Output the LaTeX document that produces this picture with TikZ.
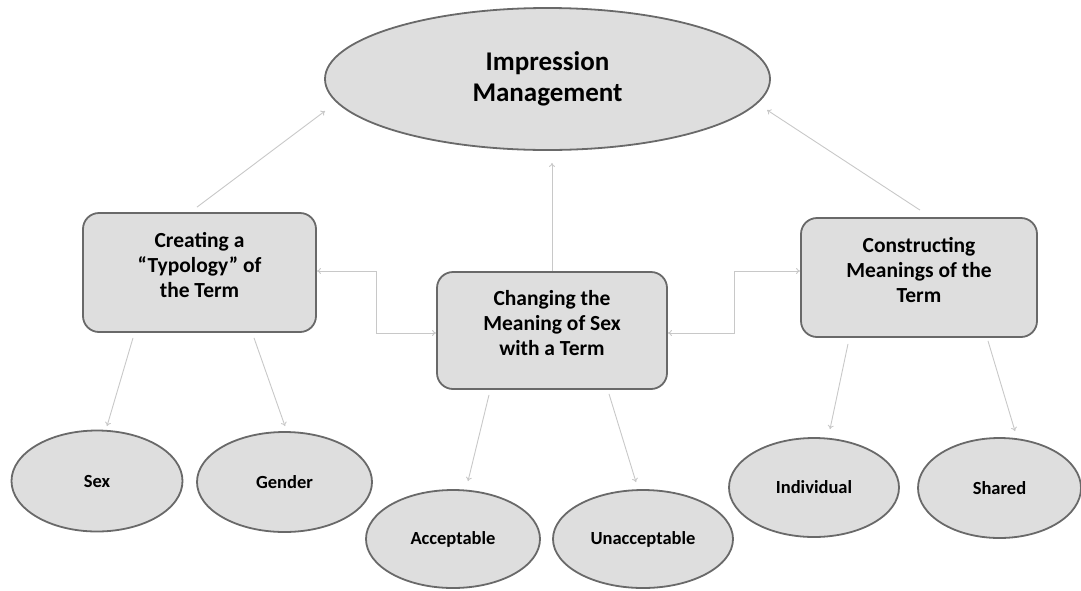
\documentclass[tikz,border=0pt]{standalone}
\usepackage{fontspec}
\setmainfont{Carlito}
\usetikzlibrary{shapes.geometric,arrows.meta}
\definecolor{shapefill}{RGB}{222,222,222}
\definecolor{shapeline}{RGB}{105,105,105}
\definecolor{connline}{RGB}{200,200,200}
\tikzset{
  shapebase/.style={draw=shapeline, line width=1.8pt, fill=shapefill, inner sep=0pt},
  oval/.style={shapebase, ellipse, font=\bfseries\fontsize{18.5}{22}\selectfont},
  topoval/.style={shapebase, ellipse, align=center, font=\bfseries\fontsize{27}{31.5}\selectfont},
  roundbox/.style={shapebase, rounded corners=16pt},
  boxtext/.style={align=center, inner sep=0pt, font=\bfseries\fontsize{21.5}{25}\selectfont},
  conn/.style={draw=connline, line width=0.9pt, -{To[length=4pt,width=6pt]}},
  conn2/.style={draw=connline, line width=0.9pt, {To[length=4pt,width=6pt]}-{To[length=4pt,width=6pt]}}
}
\begin{document}
\begin{tikzpicture}[x=1pt,y=-1pt]
\useasboundingbox (0,0) rectangle (1081,590);
% top
\node[topoval, minimum width=445pt, minimum height=142pt] (IM) at (547.5,79) {Impression\\Management};
% boxes
\node[roundbox, minimum width=233pt, minimum height=119pt] (L) at (199.5,272.5) {};
\node[boxtext] (Lt) at ([shift={(0,-7.5)}]L.center) {Creating a\\“Typology” of\\the Term};
\node[roundbox, minimum width=230pt, minimum height=117pt] (M) at (552,330.5) {};
\node[boxtext] (Mt) at ([shift={(0,-7.5)}]M.center) {Changing the\\Meaning of Sex\\with a Term};
\node[roundbox, minimum width=236pt, minimum height=119pt] (R) at (919,277.5) {};
\node[boxtext] (Rt) at ([shift={(0,-7.5)}]R.center) {Constructing\\Meanings of the\\Term};
% leaves
\node[oval, minimum width=171pt, minimum height=101pt] (S) at (97,481) {Sex};
\node[oval, minimum width=175pt, minimum height=100pt] (G) at (284.5,482) {Gender};
\node[oval, minimum width=174pt, minimum height=98pt] (A) at (453,539) {Acceptable};
\node[oval, minimum width=180pt, minimum height=98pt] (U) at (643,539) {Unacceptable};
\node[oval, minimum width=170pt, minimum height=99pt] (I) at (814,487.5) {Individual};
\node[oval, minimum width=163pt, minimum height=100pt] (Sh) at (999.5,488) {Shared};
% connectors up
\draw[conn] ([shift={(-2.5,-5)}]L.north) -- ([shift={(-222.5,32)}]IM.center);
\draw[conn] ([shift={(1,-7)}]R.north) -- ([shift={(219.5,31)}]IM.center);
\draw[conn, shorten >=12pt] (M.north) -- (M.north |- IM.south);
% elbows
\draw[conn2] ([shift={(0,-1.5)}]L.east) -- ++(60,0) |- ([shift={(0,2.5)}]M.west);
\draw[conn2] ([shift={(0,2.5)}]M.east) -- ++(67,0) |- ([shift={(0,-6.5)}]R.west);
% connectors down
\draw[conn] ([shift={(-66.5,5)}]L.south) -- ([shift={(10,-3.5)}]S.north);
\draw[conn] ([shift={(54.5,5)}]L.south) -- ([shift={(0.5,-5)}]G.north);
\draw[conn] ([shift={(-63,5)}]M.south) -- ([shift={(15,-8)}]A.north);
\draw[conn] ([shift={(57,4)}]M.south) -- ([shift={(-7,-7)}]U.north);
\draw[conn] ([shift={(-71,6)}]R.south) -- ([shift={(16,-8)}]I.north);
\draw[conn] ([shift={(69,3)}]R.south) -- ([shift={(15.5,-6)}]Sh.north);
\end{tikzpicture}
\end{document}
